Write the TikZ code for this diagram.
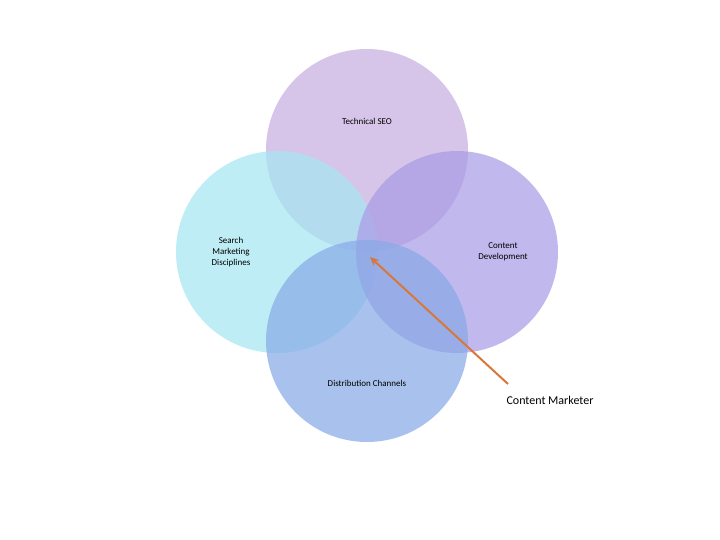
\documentclass[tikz,border=0pt]{standalone}
\usepackage{fontspec}
\setmainfont{Carlito}
\usetikzlibrary{arrows.meta}
\definecolor{seocol}{HTML}{C8AEE0}
\definecolor{searchcol}{HTML}{A6E6F2}
\definecolor{contentcol}{HTML}{A99CE6}
\definecolor{distcol}{HTML}{88AAE6}
\definecolor{markcol}{HTML}{D9773A}
\begin{document}
\begin{tikzpicture}[x=1pt,y=-1pt,
  petal/.style={circle,minimum size=202pt,inner sep=0pt,fill opacity=0.72,text opacity=1,align=center,font=\fontsize{9}{11}\selectfont},
  ]
  \useasboundingbox (0,0) rectangle (720,540);
  \node[petal,fill=seocol]     (seo)     at (367,150) {};
  \node[petal,fill=searchcol]  (search)  at (277,252) {};
  \node[petal,fill=contentcol] (content) at (457,252) {};
  \node[petal,fill=distcol]    (dist)    at (367,341) {};
  % labels
  \node[align=center,font=\fontsize{9}{11}\selectfont] (seo-text)     at (367,121) {Technical SEO};
  \node[align=center,font=\fontsize{9}{11}\selectfont] (search-text)  at (231,252) {Search\\Marketing\\Disciplines};
  \node[align=center,font=\fontsize{9}{11}\selectfont] (content-text) at (503,252) {Content\\Development};
  \node[align=center,font=\fontsize{9}{11}\selectfont] (dist-text)    at (367,383) {Distribution Channels};
  \node[font=\fontsize{12}{14}\selectfont] (marketer) at (550,400) {Content Marketer};
  \coordinate (tail) at (508,384);
  \coordinate (tip)  at (370,257);
  \draw[markcol,line width=2pt,-{Stealth[length=9pt,width=8pt]}] (tail) -- (tip);
\end{tikzpicture}
\end{document}
